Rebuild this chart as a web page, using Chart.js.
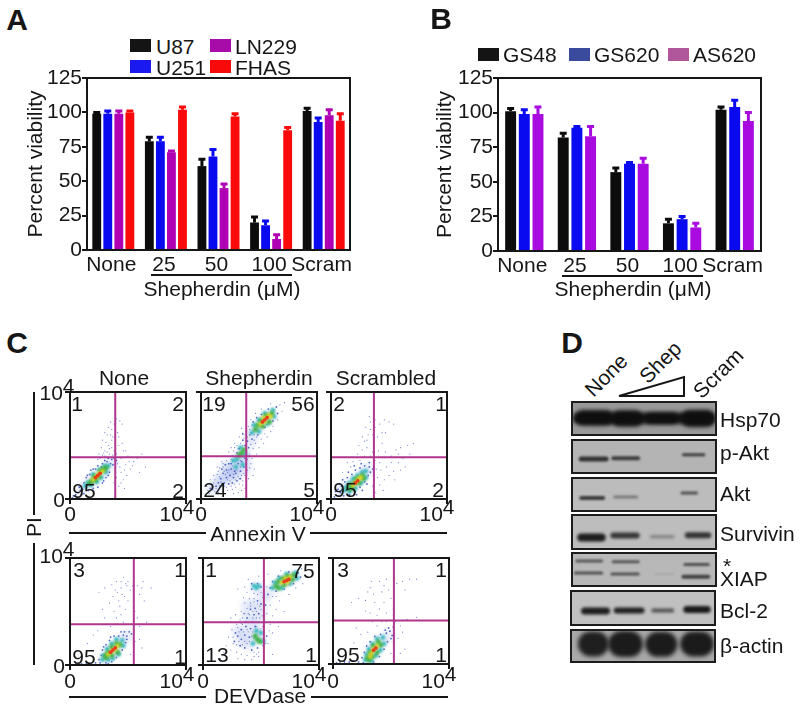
<!DOCTYPE html>
<html>
<head>
<meta charset="utf-8">
<script src="https://cdn.jsdelivr.net/npm/chart.js@4"></script>
<style>
html, body { margin: 0; padding: 0; background: #fff; }
#page { position: relative; width: 800px; height: 708px; overflow: hidden; font-family: "Liberation Sans", Arial, sans-serif; color: #161616; }
#page canvas { position: absolute; }
.t { position: absolute; white-space: nowrap; line-height: 1; font-size: 21px; transform: translate(-50%, -50%); }
.l { transform: translate(0, -50%); }
.t sup { font-size: 21px; line-height: 0; vertical-align: 7px; margin-left: 0; }
.rule { position: absolute; background: #161616; }
.swatch { position: absolute; }
</style>
</head>
<body>
<div id="page"></div>
<script>
// Panel A, B: viability bars
const doseLabels = ["None", "25", "50", "100", "Scram"];
const viabilityTicks = [0, 25, 50, 75, 100, 125];

const u87 = [99, 79, 61, 20, 101];
const u87Err = [1, 3, 5, 4, 2];
const u251 = [99, 79, 68, 18, 93];
const u251Err = [2, 3, 5, 3, 3];
const ln229 = [99, 71, 45, 8, 98];
const ln229Err = [2, 1, 3, 3, 4];
const fhas = [100, 102, 97, 87, 94];
const fhasErr = [1, 2, 2, 2, 5];

const gs48 = [101, 82, 57, 20, 102];
const gs48Err = [2, 3, 3, 3, 2];
const gs620 = [99, 89, 63, 23, 104];
const gs620Err = [3, 1, 1, 2, 5];
const as620 = [99, 83, 63, 17, 94];
const as620Err = [5, 7, 4, 3, 6];

// Panel C: flow plots (0-100 of the axis)
const anNoneHaze = [[12,11],[20,18],[28,26],[35,33]];
const anNoneRed = [[24,22],[26,24],[22,20]];
const anNoneYellow = [[20,18],[28,26],[23,21],[25,24]];
const anNoneGreen = [[17,15],[19,17],[22,18],[25,21],[29,28],[31,29],[27,27],[21,21]];
const anNoneCyan = [[13,12],[15,15],[18,13],[23,16],[27,20],[31,25],[33,31],[30,31],[25,27],[20,23]];
const anNoneBlue = [[3,3],[5,4],[7,6],[9,8],[11,9],[8,11],[12,15],[14,20],[17,23],[20,28],[24,31],[28,33],[32,35],[35,33],[36,37],[38,38],[34,25],[31,20],[28,15],[24,11],[20,10],[16,8],[12,5],[6,2],[2,1],[10,4],[30,36],[33,38],[37,32],[40,36],[27,30],[22,28],[18,27],[15,22],[29,17],[33,22]];
const anNoneSpeck = [[30,45],[33,50],[28,55],[32,60],[36,65],[38,70],[40,75],[43,73],[45,70],[35,72],[37,58],[41,62],[42,50],[46,45],[50,40],[48,32],[52,28],[44,25],[46,18],[42,12],[47,10],[55,35],[58,38],[62,42],[65,30],[60,25],[38,45],[34,42],[30,40],[26,38],[40,42],[44,38],[48,45],[36,55],[30,62],[27,48],[25,42],[43,30],[40,20],[38,15],[45,52],[42,58],[31,53],[34,47],[29,43],[39,52],[35,60],[33,67],[41,33],[47,27],[51,35],[54,31],[44,15],[49,22],[37,41],[24,37],[28,41],[32,44],[36,48],[39,68]];

const anShepHaze = [[55,74],[48,67],[60,78],[36,42],[28,30],[20,22],[42,52],[33,38],[25,20],[38,28],[15,15],[10,10],[30,22],[22,30],[45,60],[38,36],[32,28],[26,26],[18,18]];
const anShepRed = [[55,74],[57,76],[53,72]];
const anShepYellow = [[51,70],[55,72],[58,78],[60,77],[54,76]];
const anShepGreen = [[47,65],[49,69],[52,73],[56,78],[61,80],[59,72],[53,68],[35,43],[33,41],[37,46]];
const anShepCyan = [[44,62],[46,69],[50,74],[55,80],[62,83],[63,77],[57,70],[50,63],[31,37],[34,48],[38,42],[30,30],[36,32],[28,36]];
const anShepBlue = [[42,60],[40,54],[38,50],[36,55],[33,47],[44,56],[41,48],[38,38],[35,35],[32,33],[29,26],[26,28],[24,33],[22,27],[25,22],[30,24],[34,26],[37,30],[39,33],[28,20],[31,17],[34,19],[22,20],[19,24],[17,19],[20,15],[24,14],[27,15],[15,15],[13,12],[17,12],[10,9],[8,10],[45,72],[48,76],[52,79],[58,84],[65,86],[66,80],[62,73],[55,67],[49,60],[27,40],[31,43],[36,61],[39,63],[26,33],[21,32],[18,28]];
const anShepSpeck = [[6,8],[9,14],[12,18],[14,23],[16,29],[19,33],[22,36],[25,40],[28,45],[31,50],[34,52],[37,57],[39,66],[41,68],[35,66],[43,74],[47,80],[52,84],[60,89],[68,88],[70,82],[66,74],[62,68],[55,61],[52,56],[47,52],[45,47],[42,42],[44,38],[40,27],[38,22],[36,17],[33,14],[30,11],[27,9],[23,8],[19,7],[15,6],[12,7],[7,5],[24,44],[21,40],[18,35],[14,30],[11,22],[8,18],[5,12],[29,52],[33,58],[26,48],[43,33],[46,28],[41,19],[48,42],[50,48],[57,58],[60,63],[38,10],[35,8],[32,6],[28,5],[45,22],[23,25],[16,21],[20,12],[11,15],[30,35],[37,24],[34,30],[25,17],[27,31],[40,37],[42,29],[32,21],[19,30],[15,26],[36,13],[30,18],[43,62],[46,60],[72,90],[48,58],[54,52],[13,10],[17,16],[21,23],[24,27],[28,23],[31,27],[35,22],[33,19],[29,14],[26,12],[22,11],[18,15],[23,18],[20,26],[27,35],[30,39],[34,36],[37,39],[41,40],[39,44],[35,45],[32,47],[29,48],[36,50],[40,58],[43,51],[46,55],[42,65],[38,60],[44,69],[50,70],[16,12],[10,12],[26,37],[33,43]];

const anScrHaze = [[10,9],[18,13],[26,21],[32,28]];
const anScrRed = [[21,15],[23,17]];
const anScrYellow = [[19,13],[22,16],[24,19],[26,20]];
const anScrGreen = [[15,10],[17,13],[20,15],[24,15],[27,22],[28,19],[22,19],[18,10]];
const anScrCyan = [[11,8],[13,11],[16,15],[19,19],[23,22],[27,25],[30,26],[30,20],[26,15],[21,10],[16,7]];
const anScrBlue = [[3,2],[6,3],[8,6],[6,9],[9,12],[12,16],[14,20],[18,23],[21,27],[25,29],[29,31],[33,30],[34,25],[32,22],[29,16],[25,11],[21,7],[16,4],[11,3],[4,7],[10,18],[15,25],[20,31],[26,33],[33,34],[36,28],[31,14],[27,8],[22,4],[13,8],[7,14]];
const anScrSpeck = [[25,36],[29,40],[27,46],[31,48],[29,54],[32,60],[34,65],[30,67],[34,72],[33,77],[38,74],[42,70],[46,74],[50,72],[54,70],[47,62],[40,58],[37,50],[44,52],[41,45],[47,44],[52,40],[56,46],[60,48],[66,50],[71,52],[62,38],[58,34],[64,30],[60,27],[54,26],[50,22],[46,18],[42,13],[45,8],[40,20],[38,36],[34,40],[23,42],[19,35],[17,30],[24,50],[27,58],[36,44],[42,34],[48,30],[55,18],[38,6],[36,12],[10,25],[14,34],[36,60],[31,55],[38,67],[44,62],[52,34],[58,42],[68,42],[39,28],[43,27]];

const devNoneHaze = [[31,7],[37,14],[43,21],[49,27]];
const devNoneRed = [[37,14],[39,16],[35,12]];
const devNoneYellow = [[33,10],[36,13],[39,15],[41,18]];
const devNoneGreen = [[31,7],[33,12],[36,17],[40,20],[43,19],[41,12],[36,9],[31,9]];
const devNoneCyan = [[28,5],[29,9],[32,15],[36,20],[40,24],[45,23],[46,18],[42,10],[37,6],[33,5]];
const devNoneBlue = [[26,2],[25,5],[27,9],[28,14],[31,19],[34,23],[38,27],[42,27],[46,28],[49,27],[51,31],[53,29],[48,21],[45,14],[40,7],[36,3],[31,2],[22,2],[18,1],[14,1],[10,1],[5,1],[44,31],[49,24],[33,1],[47,31],[29,17],[35,26]];
const devNoneSpeck = [[41,68],[44,72],[48,76],[40,78],[46,82],[49,74],[52,70],[58,74],[62,72],[60,66],[63,78],[55,66],[47,64],[42,60],[39,70],[36,75],[30,72],[25,68],[38,50],[44,47],[48,52],[46,40],[41,38],[35,36],[30,44],[28,52],[34,58],[43,55],[50,60],[56,50],[58,44],[60,36],[66,40],[60,24],[56,22],[62,16],[52,10],[20,28],[15,20],[24,32],[45,66],[50,78],[44,78],[54,74],[37,64],[70,72],[64,60],[40,44]];

const devShepHaze = [[72,79],[65,75],[78,83],[46,72],[45,56],[38,45],[30,32],[48,28],[40,20],[52,62],[35,30],[42,38],[50,50],[44,28],[33,22],[47,42],[38,55],[56,68]];
const devShepRed = [[72,79],[74,80],[70,78]];
const devShepYellow = [[68,77],[71,81],[75,82],[73,77]];
const devShepGreen = [[63,74],[65,78],[69,81],[73,83],[78,84],[77,80],[70,75],[65,72],[47,24],[45,27],[49,22]];
const devShepCyan = [[60,72],[62,77],[66,81],[72,85],[80,86],[81,81],[75,76],[68,72],[46,72],[48,74],[44,74],[43,20],[50,30],[46,32],[52,22]];
const devShepBlue = [[58,72],[60,78],[65,83],[74,87],[82,86],[84,82],[78,76],[70,71],[63,69],[42,71],[50,73],[47,76],[42,76],[52,63],[50,57],[47,60],[45,53],[48,48],[44,47],[41,52],[38,44],[42,40],[45,36],[41,34],[37,36],[33,33],[36,28],[40,26],[33,24],[30,27],[27,22],[32,18],[36,16],[42,14],[47,16],[52,18],[55,27],[52,36],[48,40],[54,56],[56,66],[28,30]];
const devShepSpeck = [[26,20],[24,14],[29,12],[33,10],[38,9],[44,8],[22,26],[25,33],[29,38],[32,42],[35,48],[38,53],[41,58],[44,62],[47,66],[38,68],[36,73],[30,71],[39,80],[50,68],[55,73],[60,64],[63,64],[58,56],[55,48],[58,38],[60,30],[56,20],[52,12],[48,8],[42,5],[36,5],[30,6],[20,18],[18,12],[15,6],[48,83],[56,85],[67,88],[85,90],[88,84],[86,76],[80,72],[74,66],[66,60],[63,52],[60,46],[33,50],[36,58],[43,44],[46,44],[51,46],[50,52],[40,62],[34,38],[31,22],[38,20],[46,10],[57,32],[60,10],[70,50],[65,36],[35,63],[44,67],[52,78],[24,44],[28,47],[42,27],[39,31],[44,25],[34,44],[37,41],[40,47],[43,50],[46,50],[49,55],[47,57],[44,59],[41,55],[39,48],[36,48],[33,39],[30,35],[35,31],[38,33],[43,31],[46,36],[50,34],[53,41],[49,44],[40,22],[36,22],[34,19],[29,19],[26,26],[31,31],[51,25],[54,20],[48,12],[44,12]];

const devScrHaze = [[31,5],[35,13],[41,20],[47,27]];
const devScrRed = [[35,13],[37,15]];
const devScrYellow = [[33,10],[35,14],[38,17],[32,7]];
const devScrGreen = [[30,6],[32,11],[35,17],[39,21],[41,18],[38,11],[34,7],[31,4]];
const devScrCyan = [[28,4],[29,9],[31,14],[34,19],[38,24],[43,25],[44,19],[41,13],[37,8],[33,3]];
const devScrBlue = [[26,1],[25,6],[27,11],[29,17],[32,21],[36,26],[41,28],[46,29],[49,31],[51,27],[47,21],[44,14],[40,7],[35,2],[22,2],[18,3],[14,2],[10,2],[6,2],[3,1],[48,34],[52,35],[45,32],[50,24]];
const devScrSpeck = [[33,78],[32,72],[40,78],[44,74],[46,80],[30,68],[35,66],[42,68],[48,70],[55,76],[60,78],[66,80],[72,80],[62,70],[50,62],[44,58],[36,58],[32,48],[28,50],[38,46],[46,48],[42,40],[38,36],[54,40],[58,36],[60,30],[56,24],[62,14],[30,30],[24,28],[20,34],[16,58],[22,62],[28,60],[52,52],[64,42],[72,44],[58,10],[50,10],[18,20],[46,40],[52,46],[34,40],[40,52]];

// Panel D: blots, each band is [from, to, height] in lane units
const hsp70Bands = [[5,95,49],[8,24,48],[33,44,50],[54,70,49],[81,93,50]];
const hsp70Thick = [11,15,16,11,17];
const hsp70Density = [96,97,97,95,98];
const pAktBands = [[7,24,57],[29,46,55],[77,91,45]];
const pAktThick = [5,4,3];
const pAktDensity = [78,72,72];
const aktBands = [[7,22,60],[30,45,57],[76,86,46]];
const aktThick = [4,3,3];
const aktDensity = [75,38,62];
const survivinBands = [[7,21,65],[29,45,60],[55,70,63],[80,94,59]];
const survivinThick = [8,6,3,6];
const survivinDensity = [92,78,35,80];
const xiapBands = [[4,21,26],[29,46,28],[78,94,36],[3,21,60],[28,46,63],[77,94,71],[58,70,63]];
const xiapThick = [3,3,3,3,3,4,2];
const xiapDensity = [58,58,62,62,60,70,10];
const bcl2Bands = [[10,25,58],[32,49,57],[57,70,57],[80,94,54]];
const bcl2Thick = [7,6,4,7];
const bcl2Density = [92,90,62,95];
const actinBands = [[14,18,44],[35,41,44],[60,65,45],[84,90,44]];
const actinThick = [25,26,25,25];
const actinDensity = [90,92,92,92];

const page = document.getElementById("page");

function text(html, x, y, cls) {
    const d = document.createElement("div");
    d.className = "t" + (cls ? " " + cls : "");
    d.innerHTML = html;
    d.style.left = x + "px";
    d.style.top = y + "px";
    page.appendChild(d);
    return d;
}

function rule(x, y, w, h) {
    const d = document.createElement("div");
    d.className = "rule";
    d.style.cssText = `left:${x}px;top:${y}px;width:${w}px;height:${h}px`;
    page.appendChild(d);
}

function swatch(x, y, color) {
    const d = document.createElement("div");
    d.className = "swatch";
    d.style.cssText = `left:${x}px;top:${y}px;width:21px;height:13px;background:${color}`;
    page.appendChild(d);
}

function addCanvas(x, y, w, h) {
    const c = document.createElement("canvas");
    c.width = w;
    c.height = h;
    c.style.cssText = `left:${x}px;top:${y}px;width:${w}px;height:${h}px`;
    page.appendChild(c);
    return c;
}

// Black box round the plot area
const framePlugin = {
    id: "frame",
    afterDraw(chart) {
        const a = chart.chartArea, ctx = chart.ctx;
        ctx.save();
        ctx.strokeStyle = "#161616";
        ctx.lineWidth = 2;
        ctx.strokeRect(a.left, a.top, a.right - a.left, a.bottom - a.top);
        ctx.restore();
    }
};

// Chart.js has no error bars, they are drawn here from the y scale
const errorBarPlugin = {
    id: "errorBars",
    afterDatasetsDraw(chart) {
        const ctx = chart.ctx, y = chart.scales.y;
        chart.data.datasets.forEach((ds, i) => {
            chart.getDatasetMeta(i).data.forEach((bar, j) => {
                const top = y.getPixelForValue(ds.data[j] + ds.errs[j]);
                ctx.save();
                ctx.strokeStyle = ds.backgroundColor;
                ctx.lineWidth = 3;
                ctx.beginPath();
                ctx.moveTo(bar.x, bar.y);
                ctx.lineTo(bar.x, top);
                ctx.moveTo(bar.x - 3.5, top);
                ctx.lineTo(bar.x + 3.5, top);
                ctx.stroke();
                ctx.restore();
            });
        });
    }
};

function barChart(box, area, series, categoryPercentage) {
    const c = addCanvas(box.x, box.y, box.w, box.h);
    new Chart(c, {
        type: "bar",
        data: {
            labels: doseLabels,
            datasets: series.map(s => ({
                data: s.values,
                errs: s.errs,
                backgroundColor: s.color,
                barPercentage: 0.8,
                categoryPercentage: categoryPercentage
            }))
        },
        options: {
            responsive: false,
            animation: false,
            devicePixelRatio: 1,
            layout: { padding: { top: area.top - box.y, right: box.x + box.w - area.right, left: 0, bottom: 0 } },
            plugins: { legend: { display: false }, tooltip: { enabled: false } },
            scales: {
                x: {
                    grid: { display: false, drawTicks: false },
                    border: { display: false },
                    ticks: { color: "#161616", font: { family: "Liberation Sans", size: 21 }, padding: 3, labelOffset: -2, maxRotation: 0, autoSkip: false },
                    afterFit(s) { s.height = box.y + box.h - area.bottom; }
                },
                y: {
                    min: 0,
                    max: 125,
                    afterBuildTicks(s) { s.ticks = viabilityTicks.map(v => ({ value: v })); },
                    grid: { drawOnChartArea: false, color: "#161616", lineWidth: 2, tickLength: 5 },
                    border: { display: false },
                    ticks: { color: "#161616", font: { family: "Liberation Sans", size: 21 }, padding: 0 },
                    title: { display: true, text: "Percent viability", color: "#161616", font: { family: "Liberation Sans", size: 21 }, padding: 0 },
                    afterFit(s) { s.width = area.left - box.x; }
                }
            }
        },
        plugins: [errorBarPlugin, framePlugin]
    });
}

barChart({ x: 24, y: 60, w: 340, h: 225 }, { left: 87, top: 78, right: 350, bottom: 250 }, [
    { values: u87, errs: u87Err, color: "#0c0c0c" },
    { values: u251, errs: u251Err, color: "#0a0af0" },
    { values: ln229, errs: ln229Err, color: "#b000b4" },
    { values: fhas, errs: fhasErr, color: "#fa0a0a" }
], 0.84);

barChart({ x: 433, y: 60, w: 342, h: 225 }, { left: 498, top: 78, right: 761, bottom: 251 }, [
    { values: gs48, errs: gs48Err, color: "#0c0c0c" },
    { values: gs620, errs: gs620Err, color: "#0a0af0" },
    { values: as620, errs: as620Err, color: "#a80ae0" }
], 0.78);

// Legends and captions of A, B
swatch(130, 39, "#141414"); text("U87", 156, 46, "l");
swatch(130, 60, "#1a1af0"); text("U251", 156, 67, "l");
swatch(210, 39, "#a80ca8"); text("LN229", 235, 46, "l");
swatch(210, 60, "#f80a0a"); text("FHAS", 235, 67, "l");
swatch(478, 48, "#141414"); text("GS48", 503, 54, "l");
swatch(569, 48, "#3a4a9c"); text("GS620", 594, 54, "l");
swatch(668, 48, "#b0569a"); text("AS620", 693, 54, "l");
rule(151, 274, 141, 2);
text("Shepherdin (μM)", 222, 288);
rule(562, 275, 141, 2);
text("Shepherdin (μM)", 633, 288);

// Panel letters
[["A", 17, 20], ["B", 441, 19], ["C", 17, 343], ["D", 572, 343]].forEach(p => {
    const d = text(p[0], p[1], p[2]);
    d.style.fontWeight = "bold";
    d.style.fontSize = "30px";
});

// Dense layers of the flow plots are drawn soft, like a density map
const softLayerPlugin = {
    id: "softLayer",
    beforeDatasetDraw(chart, args) {
        const ds = chart.data.datasets[args.index];
        if (ds.soft) {
            chart.ctx.save();
            chart.ctx.filter = `blur(${ds.soft}px)`;
        }
    },
    afterDatasetDraw(chart, args) {
        if (chart.data.datasets[args.index].soft) chart.ctx.restore();
    }
};

function flowPlot(rect, quad, layers) {
    const m = 8;
    const c = addCanvas(rect.x - m, rect.y - m, rect.w + 2 * m, rect.h + 2 * m);
    const styles = [
        { r: 7, color: "rgba(90,120,215,0.13)", soft: 2 },
        { r: 0.6, color: "rgba(70,90,190,0.75)", soft: 0 },
        { r: 0.9, color: "rgba(50,75,185,0.85)", soft: 0 },
        { r: 2.4, color: "#38b8c0", soft: 1 },
        { r: 2.6, color: "#3fb24a", soft: 1 },
        { r: 2.3, color: "#d6d21e", soft: 0.8 },
        { r: 1.9, color: "#e8401a", soft: 0.6 }
    ];
    const dots = layers.map((pts, i) => ({
        type: "scatter",
        data: pts,
        soft: styles[i].soft,
        pointRadius: styles[i].r,
        pointBackgroundColor: styles[i].color,
        pointBorderWidth: 0
    }));
    const qLines = [
        { data: [[quad[0], 0], [quad[0], 100]] },
        { data: [[0, quad[1]], [100, quad[1]]] }
    ].map(d => ({ type: "scatter", data: d.data, showLine: true, pointRadius: 0, borderColor: "#b0368e", borderWidth: 2 }));
    const axis = {
        min: 0,
        max: 100,
        grid: { drawOnChartArea: false, color: "#161616", lineWidth: 2, tickLength: m - 3 },
        border: { display: false },
        ticks: { display: false, stepSize: 100 }
    };
    new Chart(c, {
        type: "scatter",
        data: { datasets: qLines.concat(dots.reverse()) },
        options: {
            responsive: false,
            animation: false,
            devicePixelRatio: 1,
            layout: { padding: { top: m, right: m, left: 0, bottom: 0 } },
            plugins: { legend: { display: false }, tooltip: { enabled: false } },
            scales: {
                x: Object.assign({}, axis, { afterFit(s) { s.height = m; } }),
                y: Object.assign({}, axis, { afterFit(s) { s.width = m; } })
            }
        },
        plugins: [softLayerPlugin, framePlugin]
    });
}

flowPlot({ x: 70, y: 392, w: 116, h: 107 }, [39, 39], [anNoneHaze, anNoneSpeck, anNoneBlue, anNoneCyan, anNoneGreen, anNoneYellow, anNoneRed]);
flowPlot({ x: 201, y: 392, w: 116, h: 107 }, [39, 40], [anShepHaze, anShepSpeck, anShepBlue, anShepCyan, anShepGreen, anShepYellow, anShepRed]);
flowPlot({ x: 331, y: 392, w: 116, h: 107 }, [37, 39], [anScrHaze, anScrSpeck, anScrBlue, anScrCyan, anScrGreen, anScrYellow, anScrRed]);
flowPlot({ x: 70, y: 558, w: 116, h: 107 }, [55, 38], [devNoneHaze, devNoneSpeck, devNoneBlue, devNoneCyan, devNoneGreen, devNoneYellow, devNoneRed]);
flowPlot({ x: 203, y: 558, w: 116, h: 107 }, [52.5, 40], [devShepHaze, devShepSpeck, devShepBlue, devShepCyan, devShepGreen, devShepYellow, devShepRed]);
flowPlot({ x: 333, y: 558, w: 116, h: 106 }, [52.5, 41], [devScrHaze, devScrSpeck, devScrBlue, devScrCyan, devScrGreen, devScrYellow, devScrRed]);

// Panel C captions
const e4 = "10<sup>4</sup>";
text("None", 124, 377); text("Shepherdin", 259, 377); text("Scrambled", 386, 377);
text(e4, 57, 392); text("0", 59, 499);
text(e4, 57, 555); text("0", 59, 665);
[[70, 177], [201, 307], [331, 437]].forEach(p => { text("0", p[0], 513); text(e4, p[1], 513); });
[[70, 177], [203, 309], [333, 439]].forEach(p => { text("0", p[0], 680); text(e4, p[1], 680); });
rule(33, 392, 2, 123);
rule(33, 543, 2, 122);
text("PI", 33, 527).style.transform = "translate(-50%, -50%) rotate(-90deg)";
rule(69, 532, 137, 2); text("Annexin V", 258, 533); rule(310, 532, 137, 2);
rule(69, 696, 137, 2); text("DEVDase", 260, 695); rule(311, 696, 137, 2);

[
    ["1", 77, 403], ["2", 178, 403], ["95", 84, 490], ["2", 178, 490],
    ["19", 214, 403], ["56", 303, 403], ["24", 215, 489], ["5", 309, 489],
    ["2", 339, 403], ["1", 441, 403], ["95", 345, 489], ["2", 438, 489],
    ["3", 79, 569], ["1", 180, 569], ["95", 84, 656], ["1", 180, 656],
    ["1", 211, 569], ["75", 303, 570], ["13", 217, 654], ["1", 311, 654],
    ["3", 343, 569], ["1", 441, 569], ["95", 348, 654], ["1", 441, 654]
].forEach(q => text(q[0], q[1], q[2]));

// Soft edges for the blot bands
const blurPlugin = {
    id: "bandBlur",
    beforeDatasetsDraw(chart, args, opts) { chart.ctx.save(); chart.ctx.filter = `blur(${opts.px}px)`; },
    afterDatasetsDraw(chart) { chart.ctx.restore(); }
};

const stripBackPlugin = {
    id: "stripBack",
    beforeDraw(chart, args, opts) {
        chart.ctx.save();
        chart.ctx.fillStyle = opts.color;
        chart.ctx.fillRect(0, 0, chart.width, chart.height);
        chart.ctx.restore();
    }
};

const stripFramePlugin = {
    id: "stripFrame",
    afterDraw(chart) {
        chart.ctx.save();
        chart.ctx.strokeStyle = "#1c1c1c";
        chart.ctx.lineWidth = 2;
        chart.ctx.strokeRect(1, 1, chart.width - 2, chart.height - 2);
        chart.ctx.restore();
    }
};

function blot(x, y, w, h, back, bands, thick, density, blur) {
    const c = addCanvas(x, y, w, h);
    new Chart(c, {
        type: "scatter",
        data: {
            datasets: bands.map((b, i) => ({
                data: [[b[0], b[2]], [b[1], b[2]]],
                showLine: true,
                pointRadius: 0,
                borderCapStyle: "round",
                borderWidth: thick[i],
                borderColor: `rgba(15,15,15,${density[i] / 100})`
            }))
        },
        options: {
            responsive: false,
            animation: false,
            devicePixelRatio: 1,
            plugins: { legend: { display: false }, tooltip: { enabled: false }, stripBack: { color: back }, bandBlur: { px: blur } },
            scales: {
                x: { display: false, min: 0, max: 100 },
                y: { display: false, min: 0, max: 100, reverse: true }
            }
        },
        plugins: [stripBackPlugin, blurPlugin, stripFramePlugin]
    });
}

blot(571, 401, 146, 35, "#999999", hsp70Bands, hsp70Thick, hsp70Density, 2);
blot(571, 439, 146, 35, "#b4b4b4", pAktBands, pAktThick, pAktDensity, 1.2);
blot(571, 477, 146, 35, "#bcbcbc", aktBands, aktThick, aktDensity, 1.2);
blot(571, 514, 146, 36, "#bdbdbd", survivinBands, survivinThick, survivinDensity, 1.4);
blot(571, 552, 146, 35, "#b8b8b8", xiapBands, xiapThick, xiapDensity, 1.2);
blot(570, 590, 146, 36, "#c0c0c0", bcl2Bands, bcl2Thick, bcl2Density, 1.4);
blot(570, 629, 146, 34, "#a8a8a8", actinBands, actinThick, actinDensity, 2);

// Panel D captions
[["None", 606, 375], ["Shep", 660, 362], ["Scram", 718, 373]].forEach(p => {
    text(p[0], p[1], p[2]).style.transform = "translate(-50%, -50%) rotate(-45deg)";
});
const tri = document.createElementNS("http://www.w3.org/2000/svg", "svg");
tri.setAttribute("width", "800");
tri.setAttribute("height", "708");
tri.style.cssText = "position:absolute;left:0;top:0";
tri.innerHTML = '<polygon points="619,396 684,377 684,396" fill="#fff" stroke="#161616" stroke-width="2"/>';
page.appendChild(tri);

[["Hsp70", 419], ["p-Akt", 452], ["Akt", 493], ["Survivin", 533], ["XIAP", 578], ["Bcl-2", 610], ["β-actin", 645]].forEach(p => {
    text(p[0], 720, p[1], "l");
});
text("*", 723, 565, "l");
</script>
</body>
</html>
